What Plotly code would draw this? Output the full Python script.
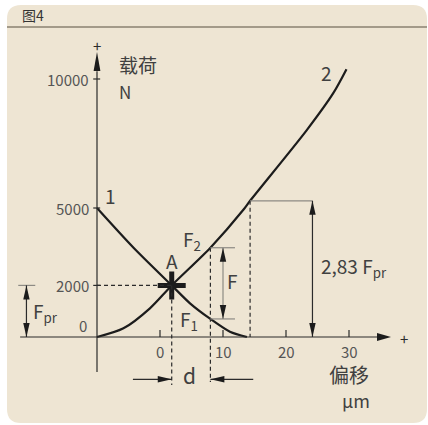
import plotly.graph_objects as go

# curve 1: bearing 1 load vs displacement (falls as the shaft moves)
curve1_x = [-10, -4.2, 1.86, 4.76, 8, 11.1, 13.8]
curve1_f = [5000, 3460, 2000, 1306, 700, 205, 0]

# curve 2: bearing 2 load vs displacement (rises)
curve2_x = [-10, -5.8, -1.6, 1.86, 8, 13.2, 14.3, 23.3, 27.5, 29.6]
curve2_f = [0, 337, 1112, 2000, 3460, 4920, 5280, 8020, 9450, 10380]

# ticks
x_ticks = [0, 10, 20, 30]
y_ticks = [2000, 5000, 10000]

# preload point A and the loaded state
a_x, f_pr = 1.86, 2000
load_x, f1, f2 = 8, 700, 3460
lift_x, f_lift = 14.3, 5280

# pixel scale of the axes (428x425 canvas, no margins)
PX_UM = 6.3
PX_N = 0.0258
W, H = 428, 425

DARK = "#2b2b2b"
GREY = "#8d8a84"
TXT = "#404040"
FONT = "Noto Sans CJK SC"

fig = go.Figure()

fig.add_scatter(x=curve1_x, y=curve1_f, mode="lines",
                line=dict(color="#1c1c1c", width=2.2, shape="spline", smoothing=0.8),
                hoverinfo="skip")
fig.add_scatter(x=curve2_x, y=curve2_f, mode="lines",
                line=dict(color="#1c1c1c", width=2.2, shape="spline", smoothing=0.8),
                hoverinfo="skip")
# point A cross
fig.add_scatter(x=[a_x], y=[f_pr], mode="markers",
                marker=dict(symbol="cross-thin", size=20,
                            line=dict(color="#1c1c1c", width=5)),
                hoverinfo="skip")

shapes = []


def line(x0, y0, x1, y1, color=DARK, width=1.2, dash=None):
    shapes.append(dict(type="line", x0=x0, y0=y0, x1=x1, y1=y1, xref="x", yref="y",
                       line=dict(color=color, width=width, dash=dash)))


def head(x, y, d, length=14, half=3.2):
    """filled arrow head with tip at (x, y), pointing d in (up, down, left, right)"""
    lx, ly = length / PX_UM, length / PX_N
    hx, hy = half / PX_UM, half / PX_N
    if d == "up":
        pts = [(x, y), (x - hx, y - ly), (x + hx, y - ly)]
    elif d == "down":
        pts = [(x, y), (x - hx, y + ly), (x + hx, y + ly)]
    elif d == "right":
        pts = [(x, y), (x - lx, y + hy), (x - lx, y - hy)]
    else:
        pts = [(x, y), (x + lx, y + hy), (x + lx, y - hy)]
    path = "M " + " L ".join(f"{px},{py}" for px, py in pts) + " Z"
    shapes.append(dict(type="path", path=path, xref="x", yref="y",
                       fillcolor="#1c1c1c", line=dict(width=0)))


# card background with rounded corners
def card(x0, y0, x1, y1, r):
    px = lambda v: v / W
    py = lambda v: 1 - v / H
    return (f"M {px(x0 + r)},{py(y0)} L {px(x1 - r)},{py(y0)} "
            f"Q {px(x1)},{py(y0)} {px(x1)},{py(y0 + r)} "
            f"L {px(x1)},{py(y1 - r)} Q {px(x1)},{py(y1)} {px(x1 - r)},{py(y1)} "
            f"L {px(x0 + r)},{py(y1)} Q {px(x0)},{py(y1)} {px(x0)},{py(y1 - r)} "
            f"L {px(x0)},{py(y0 + r)} Q {px(x0)},{py(y0)} {px(x0 + r)},{py(y0)} Z")


shapes.append(dict(type="path", path=card(7, 5, 427, 423, 14), xref="paper", yref="paper",
                   fillcolor="#EEE5D3", line=dict(width=0), layer="below"))
shapes.append(dict(type="line", x0=7 / W, x1=427 / W, y0=1 - 27 / H, y1=1 - 27 / H,
                   xref="paper", yref="paper", line=dict(color="#8a8171", width=1.6)))

# axes
line(-10, -1357, -10, 10300)
head(-10, 11047, "up", length=19, half=3.4)
line(-22.2, 0, 35, 0)
head(36.67, 0, "right", length=14, half=4)
for v in y_ticks:
    line(-10.6, v, -9.5, v)
for v in x_ticks:
    line(v, 0, v, 271)

# dashed guides
dash = "4px,3px"
line(-10, f_pr, a_x, f_pr, dash=dash)
line(a_x, f_pr, a_x, -1860, dash=dash)
line(load_x, f2, load_x, -1744, dash=dash)
line(lift_x, f_lift, lift_x, 0, dash=dash)

# F_pr dimension
line(-22.5, f_pr, -19.8, f_pr, color=GREY)
line(-21.2, 0, -21.2, f_pr)
head(-21.2, f_pr, "up")
head(-21.2, 0, "down")

# F dimension
line(load_x, f2, 11.9, f2, color=GREY)
line(load_x, f1, 11.9, f1, color=GREY)
line(10, f1, 10, f2, color=GREY)
head(10, f2, "up")
head(10, f1, "down")

# 2,83 F_pr dimension
line(lift_x, f_lift, 24.2, f_lift, color=GREY)
line(24.2, 0, 24.2, f_lift)
head(24.2, f_lift, "up")
head(24.2, 0, "down")

# d dimension
d_y = -1640
line(-4.3, d_y, a_x, d_y)
head(a_x, d_y, "right")
line(14.8, d_y, load_x, d_y)
head(load_x, d_y, "left")

ann = []


def text(x, y, s, size=15, color=TXT, xa="center", ya="middle", ref="x"):
    ann.append(dict(x=x, y=y, text=s, showarrow=False, xref=ref,
                    yref="y" if ref == "x" else "paper",
                    xanchor=xa, yanchor=ya,
                    font=dict(family=FONT, size=size, color=color)))


for v in x_ticks:
    text(v, -560, str(v), size=15, color="#555")
for v in y_ticks:
    text(-10.9, v, str(v), size=15, color="#555", xa="right")
text(-12.2, 465, "0", size=15, color="#555")
text(-10, 11318, "+", size=15, color=DARK)
text(38.7, -39, "+", size=15, color=DARK)
text(-3.5, 10580, "载荷", size=19)
text(-6.8, 9500, "N", size=17, xa="left")
text(-7.9, 5504, "1", size=19)
text(26.5, 10271, "2", size=19)
text(a_x, 2950, "A", size=19)
text(3.4, 3760, "F<sub>2</sub>", size=19, xa="left")
text(2.9, 659, "F<sub>1</sub>", size=19, xa="left")
text(11.5, 2209, "F", size=19)
text(25.2, 2725, "2,83 F<sub>pr</sub>", size=19, xa="left")
text(-20.4, 969, "F<sub>pr</sub>", size=19, xa="left")
text(4.76, -1473, "d", size=21)
text(30, -1470, "偏移", size=20)
text(31.1, -2460, "µm", size=18)
text(20 / W, 1 - 15 / H, "图4", size=14, color="#333", xa="left", ref="paper")

fig.update_layout(
    width=W, height=H, autosize=False,
    margin=dict(l=0, r=0, t=0, b=0),
    paper_bgcolor="white", plot_bgcolor="rgba(0,0,0,0)",
    showlegend=False,
    xaxis=dict(range=[-160 / PX_UM, (W - 160) / PX_UM], visible=False, fixedrange=True),
    yaxis=dict(range=[-(H - 337) / PX_N, 337 / PX_N], visible=False, fixedrange=True),
    shapes=shapes, annotations=ann,
)

fig.write_html("out.html", config=dict(displayModeBar=False),
               post_script="document.body.style.margin='0';")
